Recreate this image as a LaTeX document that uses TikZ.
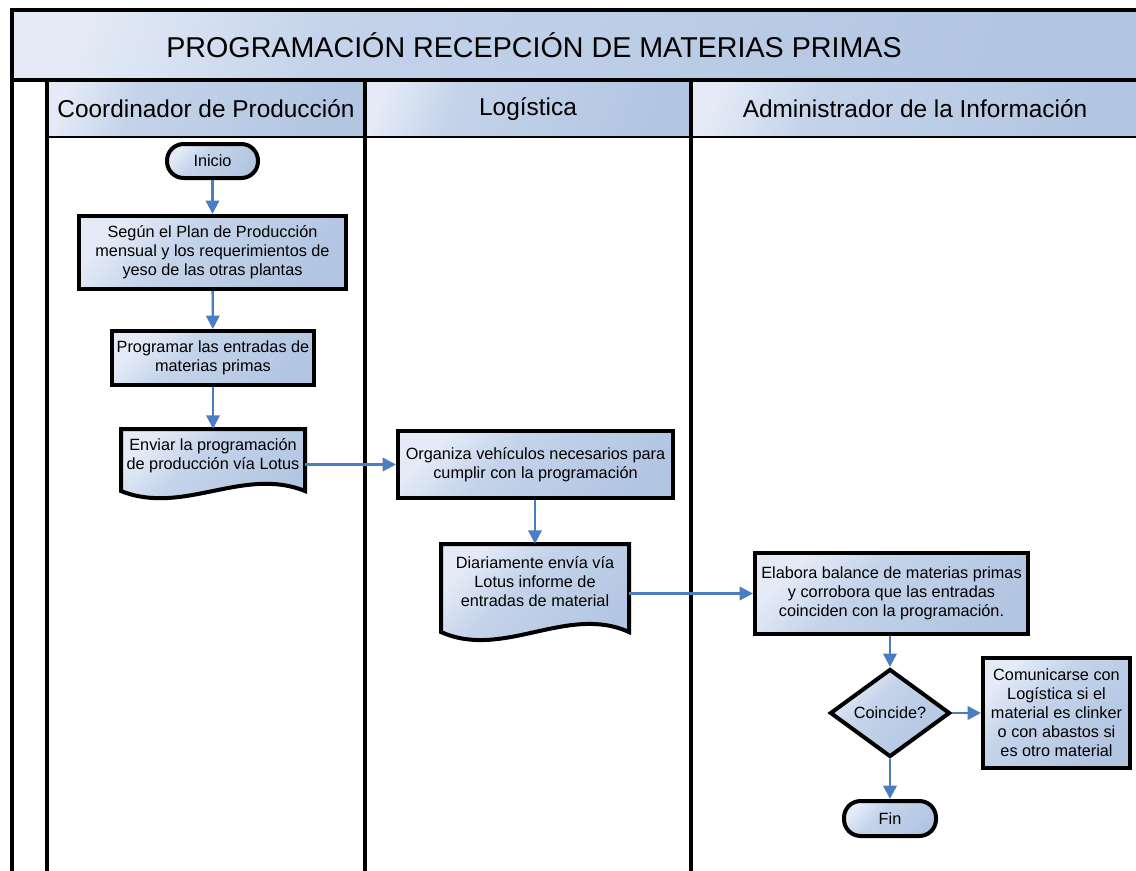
\documentclass[tikz,border=0pt]{standalone}
\usepackage{fontspec}
\setmainfont{Liberation Sans}
\usetikzlibrary{shapes.geometric,arrows.meta}
\definecolor{lightb}{HTML}{E4EBF6}
\definecolor{midb}{HTML}{C4D3EA}
\definecolor{darkb}{HTML}{B2C5E1}
\definecolor{arrowb}{HTML}{4A7EC1}
\pgfdeclarehorizontalshading{boxgrad}{100bp}{color(0bp)=(lightb); color(25bp)=(lightb); color(42bp)=(midb); color(75bp)=(darkb); color(100bp)=(darkb)}
\pgfdeclarehorizontalshading{bargrad}{100bp}{color(0bp)=(lightb); color(22bp)=(lightb); color(36bp)=(midb); color(75bp)=(darkb); color(100bp)=(darkb)}
\newcommand\nodefont{\fontsize{12.2}{14.3}\selectfont}
\newcommand\lanefont{\fontsize{18.3}{21}\selectfont}
\newcommand\titlefont{\fontsize{21.5}{24}\selectfont}
\tikzset{
  fillgrad/.style={shading=boxgrad, shading angle=-45},
  bargradstyle/.style={shading=bargrad, shading angle=-20},
  proc/.style={draw=black, line width=3pt, fillgrad, align=center, font=\nodefont, inner sep=1pt},
  term/.style={proc, rounded corners=12.5pt},
  docshape/.style={draw=black, line width=3pt, fillgrad, line join=miter},
  doctext/.style={align=center, font=\nodefont, inner sep=0pt},
  flow/.style={draw=arrowb, line width=1.8pt, -{Triangle[length=10pt,width=10pt]}},
  frame/.style={draw=black, line width=2.6pt},
  lanetitle/.style={font=\lanefont, inner sep=0pt},
}
\begin{document}
\begin{tikzpicture}[x=0.75pt,y=-0.75pt]
\useasboundingbox (0,0) rectangle (1136,871);
% title bar and lane headers
\shade[bargradstyle] (12,10) rectangle (1136,80);
\shade[bargradstyle] (47,80) rectangle (365,137);
\shade[bargradstyle] (365,80) rectangle (691,137);
\shade[bargradstyle] (691,80) rectangle (1136,137);
\node[font=\titlefont, inner sep=0pt] (title) at (534,45) {PROGRAMACIÓN RECEPCIÓN DE MATERIAS PRIMAS};
\node[lanetitle] (lane1) at (206,109) {Coordinador de Producción};
\node[lanetitle] (lane2) at (528,109) {Logística};
\node[lanetitle] (lane3) at (915,109) {Administrador de la Información};
% frame lines
\draw[frame] (12,871) -- (12,10) -- (1136,10);
\draw[frame, line width=2.8pt] (12,80) -- (1136,80);
\draw[frame, line width=2pt] (47,137) -- (1136,137);
\draw[frame, line width=2.9pt] (47,80) -- (47,871);
\draw[frame, line width=2.9pt] (365,80) -- (365,871);
\draw[frame, line width=2.9pt] (691,80) -- (691,871);
% lane 1
\node[term, minimum width=68.25pt, minimum height=25.5pt] (inicio) at (212.5,161) {Inicio};
\node[proc, minimum width=200.25pt, minimum height=54.75pt] (b1) at (212.5,252.5) {Según el Plan de Producción\\mensual y los requerimientos de\\yeso de las otras plantas};
\node[proc, minimum width=151.5pt, minimum height=40.5pt] (b2) at (213,358) {Programar las entradas de\\materias primas};
\path[docshape] (121,429) -- (121,491) .. controls (183,516) and (243,466) .. (305,491) -- (305,429) -- cycle;
\node[doctext, minimum width=138pt, minimum height=40.5pt] (doc1) at (213,456) {Enviar la programación\\de producción vía Lotus};
% lane 2
\node[proc, minimum width=206.25pt, minimum height=50.25pt] (b3) at (535.5,464.5) {Organiza vehículos necesarios para\\cumplir con la programación};
\path[docshape] (441,544) -- (441,632) .. controls (503,660) and (567,604) .. (629,632) -- (629,544) -- cycle;
\node[doctext, minimum width=141pt, minimum height=57pt] (doc2) at (535,582) {Diariamente envía vía\\Lotus informe de\\entradas de material};
% lane 3
\node[proc, minimum width=204.75pt, minimum height=60.75pt] (b4) at (891.5,593.5) {Elabora balance de materias primas\\y corrobora que las entradas\\coinciden con la programación.};
\node[proc, shape=diamond, minimum width=90pt, minimum height=66pt, inner sep=0pt] (dec) at (890,713) {Coincide?};
\node[proc, minimum width=110.25pt, minimum height=82.5pt] (b5) at (1056.5,713) {Comunicarse con\\Logística si el\\material es clinker\\o con abastos si\\es otro material};
\node[term, minimum width=69pt, minimum height=26.25pt] (fin) at (890,818.5) {Fin};
% connectors
\draw[flow] (inicio) -- (b1);
\draw[flow] (b1) -- (b2);
\draw[flow] (b2.south) -- (b2.south |- doc1.north);
\draw[flow] (doc1.east |- b3.west) -- (b3.west);
\draw[flow] (b3.south -| doc2.north) -- (doc2.north);
\draw[flow] (doc2.east |- b4.west) -- (b4.west);
\draw[flow] (b4.south -| dec.north) -- (dec.north);
\draw[flow] (dec.east) -- (b5.west |- dec.east);
\draw[flow] (dec.south) -- (fin.north);
\end{tikzpicture}
\end{document}
